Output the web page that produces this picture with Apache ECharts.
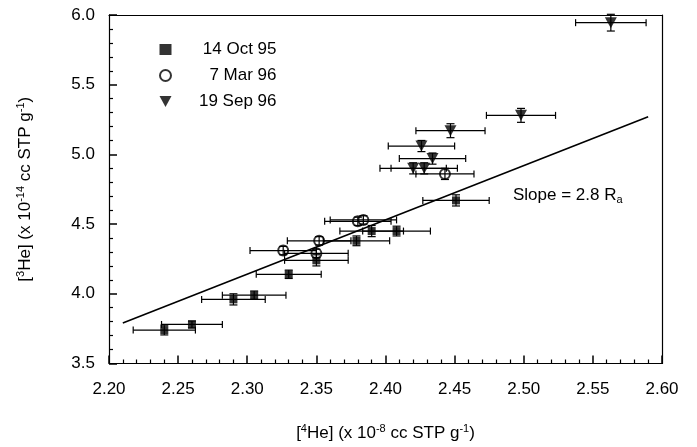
<!DOCTYPE html>
<html><head><meta charset="utf-8">
<script src="https://cdn.jsdelivr.net/npm/echarts@6/dist/echarts.min.js"></script>
<style>html,body{margin:0;padding:0;background:#fff}#c{width:697px;height:447px}</style>
</head><body><div id="c"></div>
<script>
// 14 Oct 95 (filled squares)
const octX    = [2.240, 2.260, 2.290, 2.305, 2.330, 2.350, 2.379, 2.390, 2.408, 2.451];
const octY    = [3.74,  3.78,  3.96,  3.99,  4.14,  4.24,  4.38,  4.45,  4.45,  4.67];
const octXErr = [0.0225,0.022, 0.023, 0.023, 0.0235,0.023, 0.024, 0.023, 0.0245,0.024];
const octYErr = [0.035, 0.025, 0.04,  0.03,  0.03,  0.04,  0.035, 0.04,  0.035, 0.04];
// 7 Mar 96 (open circles)
const marX    = [2.326, 2.350, 2.352, 2.380, 2.384, 2.443];
const marY    = [4.31,  4.29,  4.38,  4.52,  4.53,  4.86];
const marXErr = [0.024, 0.023, 0.023, 0.024, 0.024, 0.021];
const marYErr = [0.03,  0.03,  0.03,  0.03,  0.03,  0.04];
// 19 Sep 96 (filled down triangles)
const sepX    = [2.420, 2.428, 2.434, 2.426, 2.447, 2.498, 2.563];
const sepY    = [4.90,  4.90,  4.97,  5.06,  5.17,  5.28,  5.945];
const sepXErr = [0.024, 0.024, 0.024, 0.024, 0.025, 0.025, 0.0255];
const sepYErr = [0.04,  0.04,  0.04,  0.04,  0.05,  0.05,  0.06];
// slope line (2.8 Ra)
const lineX = [2.21, 2.59];
const lineY = [3.79, 5.27];
// axes
const X_MIN = 2.2, X_MAX = 2.6, X_MAJOR = 0.05, X_MINOR = 0.01;
const Y_MIN = 3.5, Y_MAX = 6.0, Y_MAJOR = 0.5, Y_MINOR = 0.1;

const seriesNames = ['14 Oct 95', '7 Mar 96', '19 Sep 96'];
const FONT = 'Liberation Sans, Arial, sans-serif';
const FS = 17;

function pts(xs, ys) { return xs.map((x, i) => [x, ys[i]]); }
function errs(xs, ys, ex, ey) { return xs.map((x, i) => [x, ys[i], ex[i], ey[i]]); }

function renderErr(params, api) {
  const x = api.value(0), y = api.value(1), ex = api.value(2), ey = api.value(3);
  const l = api.coord([x - ex, y]), r = api.coord([x + ex, y]);
  const b = api.coord([x, y - ey]), t = api.coord([x, y + ey]);
  const ch = 3.5, cw = 4;
  const st = { stroke: '#000', lineWidth: 1.2 };
  const seg = (x1, y1, x2, y2) => ({ type: 'line', shape: { x1, y1, x2, y2 }, style: st });
  return {
    type: 'group',
    children: [
      seg(l[0], l[1], r[0], r[1]),
      seg(l[0], l[1] - ch, l[0], l[1] + ch),
      seg(r[0], r[1] - ch, r[0], r[1] + ch),
      seg(b[0], b[1], t[0], t[1]),
      seg(b[0] - cw, b[1], b[0] + cw, b[1]),
      seg(t[0] - cw, t[1], t[0] + cw, t[1])
    ]
  };
}

const chart = echarts.init(document.getElementById('c'));
const supStyle = { fontSize: 11, fontFamily: FONT, color: '#000', verticalAlign: 'top', lineHeight: 10 };
const baseStyle = { fontSize: FS, fontFamily: FONT, color: '#000', lineHeight: 20 };

chart.setOption({
  animation: false,
  grid: { left: 109, top: 15, width: 553, height: 350 },
  legend: {
    orient: 'vertical', left: 154, top: 36, itemWidth: 12, itemHeight: 11, itemGap: 9,
    data: seriesNames,
    formatter: n => '{r|' + n + '}',
    textStyle: { fontFamily: FONT, fontSize: FS, color: '#000',
      rich: { r: { width: 100, align: 'right', fontSize: FS, fontFamily: FONT, color: '#000', lineHeight: 18 } } }
  },
  xAxis: [{
    type: 'value', min: X_MIN, max: X_MAX, interval: X_MAJOR, position: 'bottom',
    name: '{b|[}{s|4}{b|He] (x 10}{s|-8}{b| cc STP g}{s|-1}{b|)}',
    nameLocation: 'middle', nameGap: 60,
    nameTextStyle: { rich: { b: baseStyle, s: supStyle } },
    axisLine: { show: true, lineStyle: { color: '#000', width: 1.2 } },
    axisTick: { show: true, inside: true, length: 8, lineStyle: { color: '#000', width: 1.5 } },
    minorTick: { show: true, splitNumber: 5, length: 4, lineStyle: { color: '#000', width: 1.2 } },
    splitLine: { show: false },
    axisLabel: { formatter: v => v.toFixed(2), fontSize: FS, color: '#000', fontFamily: FONT, margin: 17 }
  }, {
    type: 'value', min: X_MIN, max: X_MAX, position: 'top',
    axisLine: { show: true, lineStyle: { color: '#000', width: 1.2 } },
    axisLabel: { show: false }, splitLine: { show: false }, axisTick: { show: false }
  }],
  yAxis: [{
    type: 'value', min: Y_MIN, max: Y_MAX, interval: Y_MAJOR, position: 'left',
    name: '{b|[}{s|3}{b|He] (x 10}{s|-14}{b| cc STP g}{s|-1}{b|)}',
    nameLocation: 'middle', nameGap: 74,
    nameTextStyle: { rich: { b: baseStyle, s: supStyle } },
    axisLine: { show: true, lineStyle: { color: '#000', width: 1.2 } },
    axisTick: { show: true, inside: true, length: 8, lineStyle: { color: '#000', width: 1.5 } },
    minorTick: { show: true, splitNumber: 5, length: 4, lineStyle: { color: '#000', width: 1.2 } },
    splitLine: { show: false },
    axisLabel: { formatter: v => v.toFixed(1), fontSize: FS, color: '#000', fontFamily: FONT, margin: 14 }
  }, {
    type: 'value', min: Y_MIN, max: Y_MAX, position: 'right',
    axisLine: { show: true, lineStyle: { color: '#000', width: 1.2 } },
    axisLabel: { show: false }, splitLine: { show: false }, axisTick: { show: false }
  }],
  graphic: [{
    type: 'text', left: 513, top: 187,
    style: {
      text: '{n|Slope = 2.8 R}{a|a}',
      rich: {
        n: { fontSize: FS, fontFamily: FONT, fill: '#000', lineHeight: 20, verticalAlign: 'middle' },
        a: { fontSize: 11, fontFamily: FONT, fill: '#000', lineHeight: 20, verticalAlign: 'bottom' }
      }
    }
  }],
  series: [
    { type: 'line', name: 'slope', data: pts(lineX, lineY), showSymbol: false, symbol: 'none',
      lineStyle: { color: '#000', width: 1.6 }, silent: true },
    { type: 'scatter', name: seriesNames[0], data: pts(octX, octY), symbol: 'rect', symbolSize: 8,
      itemStyle: { color: '#000' } },
    { type: 'scatter', name: seriesNames[1], data: pts(marX, marY), symbol: 'emptyCircle', symbolSize: 10,
      itemStyle: { color: '#000', borderWidth: 1.3 } },
    { type: 'scatter', name: seriesNames[2], data: pts(sepX, sepY), symbol: 'path://M0,0 L10,0 L5,9 Z', symbolSize: [12, 11],
      itemStyle: { color: '#000' } },
    { type: 'custom', name: 'errA', data: errs(octX, octY, octXErr, octYErr), renderItem: renderErr, z: 3, silent: true },
    { type: 'custom', name: 'errB', data: errs(marX, marY, marXErr, marYErr), renderItem: renderErr, z: 3, silent: true },
    { type: 'custom', name: 'errC', data: errs(sepX, sepY, sepXErr, sepYErr), renderItem: renderErr, z: 3, silent: true }
  ]
});
</script>
</body></html>
